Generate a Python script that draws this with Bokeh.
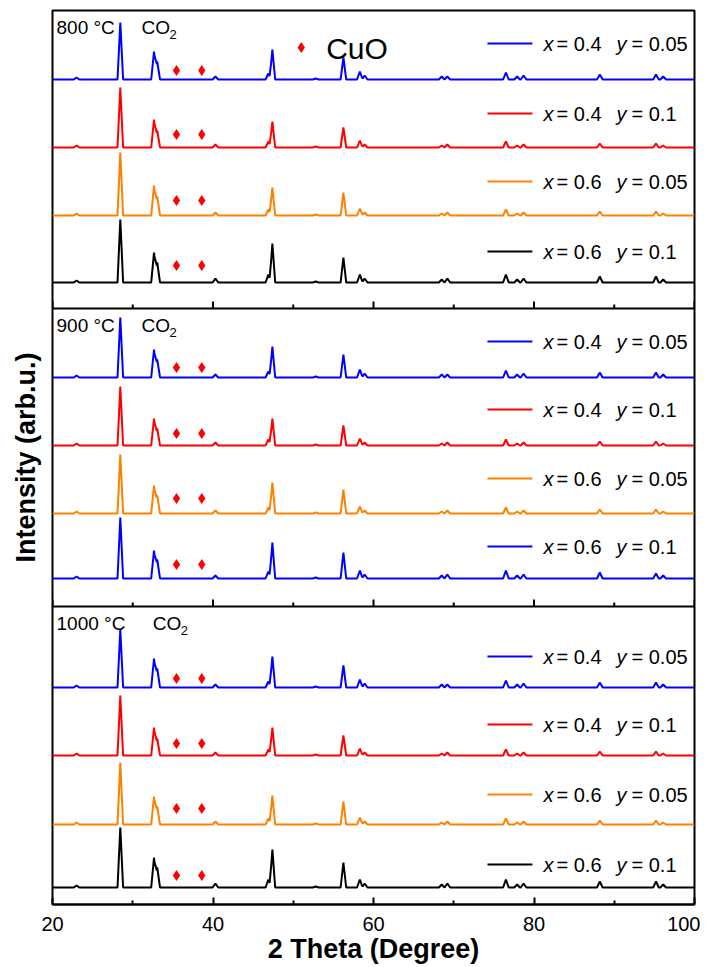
import numpy as np
from bokeh.plotting import figure
from bokeh.models import Range1d, FixedTicker, Span
from bokeh.core.properties import value
from bokeh.embed import file_html
from bokeh.resources import INLINE

# ---------------- data ----------------
peak_2theta = [23.0, 28.45, 32.65, 33.05, 40.3, 46.9, 47.4, 52.8, 56.25, 58.3,
               58.9, 68.5, 69.2, 76.5, 77.9, 78.7, 88.2, 95.2, 96.1]

# peak heights (arb. units) for each trace, panels top -> bottom, traces top -> bottom
p800_x04_y005 = [2, 57, 28, 18, 3, 6, 30, 1, 22, 8, 4, 3, 3, 7, 3, 4, 5, 5, 3]
p800_x04_y01 = [2, 60, 28, 17, 3, 6, 26, 1, 20, 7, 3, 2, 3, 6, 2, 3, 4, 4, 2]
p800_x06_y005 = [2, 63, 30, 19, 3, 6, 28, 1, 23, 7, 3, 2, 3, 6, 2, 3, 4, 4, 2]
p800_x06_y01 = [2, 63, 30, 20, 4, 8, 39, 1, 25, 8, 4, 3, 4, 8, 3, 4, 6, 6, 3]

p900_x04_y005 = [2, 60, 28, 18, 3, 6, 31, 1, 23, 8, 4, 3, 3, 7, 3, 4, 5, 5, 3]
p900_x04_y01 = [2, 59, 27, 17, 3, 6, 27, 1, 20, 7, 3, 2, 3, 6, 2, 3, 4, 4, 2]
p900_x06_y005 = [2, 59, 28, 18, 3, 6, 31, 1, 24, 7, 3, 2, 3, 6, 2, 3, 4, 4, 2]
p900_x06_y01 = [2, 61, 28, 19, 3, 7, 36, 1, 26, 8, 4, 3, 4, 8, 3, 4, 6, 5, 3]

p1000_x04_y005 = [2, 58, 29, 19, 3, 6, 31, 1, 22, 8, 4, 3, 3, 7, 3, 4, 5, 5, 3]
p1000_x04_y01 = [2, 60, 28, 17, 3, 6, 28, 1, 20, 7, 3, 2, 3, 6, 2, 3, 4, 4, 2]
p1000_x06_y005 = [2, 62, 28, 18, 3, 6, 29, 1, 23, 7, 3, 2, 3, 6, 2, 3, 4, 4, 2]
p1000_x06_y01 = [2, 60, 30, 20, 4, 8, 38, 1, 25, 8, 4, 3, 4, 8, 3, 4, 6, 6, 3]

cuo_2theta = [35.45, 38.6]
temperatures = ["800 \u00b0C", "900 \u00b0C", "1000 \u00b0C"]
legend_x_vals = ["0.4", "0.4", "0.6", "0.6"]
legend_y_vals = ["0.05", "0.1", "0.05", "0.1"]
x_major_ticks = [20, 40, 60, 80, 100]
x_minor_ticks = [30, 50, 70, 90]

panels = [
    [p800_x04_y005, p800_x04_y01, p800_x06_y005, p800_x06_y01],
    [p900_x04_y005, p900_x04_y01, p900_x06_y005, p900_x06_y01],
    [p1000_x04_y005, p1000_x04_y01, p1000_x06_y005, p1000_x06_y01],
]

# ---------------- layout / style ----------------
BLUE, RED, ORANGE, BLACK = "#0000FF", "#FF0000", "#FF8000", "#000000"
panel_colors = [
    [BLUE, RED, ORANGE, BLACK],
    [BLUE, RED, ORANGE, BLUE],
    [BLUE, RED, ORANGE, BLACK],
]
PANEL_H = 298
trace_offsets = [[229, 161, 93, 26], [229, 161, 93, 28], [217, 149, 80, 17]]
legend_offsets = [[265, 195, 127, 57], [265, 197, 128, 60], [248, 180, 110, 40]]
diamond_lift = [[9, 13, 15, 17], [10, 12, 15, 14], [9, 12, 16, 12]]
co2_x = [31.1, 31.1, 32.5]
HW = 0.35
FONT = "Liberation Sans"


def profile(heights):
    xs = {20.0, 100.0}
    for p in peak_2theta:
        xs.update([p - HW, p, p + HW])
    xs = np.array(sorted(xs))
    ys = np.zeros_like(xs)
    for p, h in zip(peak_2theta, heights):
        ys += np.clip(h * (1 - np.abs(xs - p) / HW), 0, None)
    return xs, ys


p = figure(frame_width=642, frame_height=894, x_range=Range1d(20, 100),
           y_range=Range1d(0, 3 * PANEL_H), output_backend="svg",
           toolbar_location=None, min_border_left=52, min_border_right=6,
           min_border_top=10, min_border_bottom=50)
p.xgrid.visible = False
p.ygrid.visible = False
p.outline_line_color = "black"
p.outline_line_width = 2
p.background_fill_color = "white"

xa = p.xaxis[0]
xa.ticker = FixedTicker(ticks=x_major_ticks, minor_ticks=x_minor_ticks)
xa.major_tick_in = 7
xa.major_tick_out = 0
xa.minor_tick_in = 4
xa.minor_tick_out = 0
xa.major_tick_line_width = 2
xa.minor_tick_line_width = 2
xa.axis_line_width = 2
xa.major_label_text_font = FONT
xa.major_label_text_font_size = "20px"
xa.major_label_text_color = "black"
xa.major_label_standoff = 12
xa.axis_label = "2 Theta (Degree)"
xa.axis_label_text_font = FONT
xa.axis_label_text_font_size = "27px"
xa.axis_label_text_font_style = "bold"
xa.axis_label_text_color = "black"
xa.axis_label_standoff = 0

ya = p.yaxis[0]
ya.ticker = FixedTicker(ticks=[])
ya.axis_line_color = None
ya.major_tick_line_color = None
ya.minor_tick_line_color = None
ya.axis_label = "Intensity (arb.u.)"
ya.axis_label_text_font = FONT
ya.axis_label_text_font_size = "27px"
ya.axis_label_text_font_style = "bold"
ya.axis_label_text_color = "black"
ya.axis_label_standoff = 12

# panel separators with inward ticks
for k in (1, 2):
    sep = k * PANEL_H
    p.add_layout(Span(location=sep, dimension="width", line_color="black", line_width=2))
    p.segment(x0=x_major_ticks, y0=[sep] * 5, x1=x_major_ticks, y1=[sep + 7] * 5,
              line_color="black", line_width=2)
    p.segment(x0=x_minor_ticks, y0=[sep] * 4, x1=x_minor_ticks, y1=[sep + 4] * 4,
              line_color="black", line_width=2)

for i, traces in enumerate(panels):
    bottom = (2 - i) * PANEL_H
    top = bottom + PANEL_H
    for j, heights in enumerate(traces):
        base = bottom + trace_offsets[i][j]
        xs, ys = profile(heights)
        col = panel_colors[i][j]
        p.line(xs, ys + base, line_color=col, line_width=2)
        p.scatter(cuo_2theta, [base + diamond_lift[i][j]] * 2, marker="diamond", size=11,
                  color=RED, line_width=0)
        # legend entry
        ly = bottom + legend_offsets[i][j]
        p.segment(x0=[74.2], y0=[ly], x1=[79.8], y1=[ly], line_color=col, line_width=2)
        common = dict(text_font=value(FONT), text_font_size="20px",
                      text_baseline="middle", text_align="left", text_color="black")
        p.text(x=[81.18], y=[ly], text=["x"], text_font_style="italic", **common)
        p.text(x=[81.18], y=[ly], text=["= " + legend_x_vals[j]], x_offset=13, **common)
        p.text(x=[81.18], y=[ly], text=["y"], text_font_style="italic", x_offset=73, **common)
        p.text(x=[81.18], y=[ly], text=["= " + legend_y_vals[j]], x_offset=88, **common)
    # temperature and atmosphere labels
    p.text(x=[20.5], y=[top - 17], text=[temperatures[i]], text_font=value(FONT),
           text_font_size="19px", text_baseline="middle", text_color="black")
    p.text(x=[co2_x[i]], y=[top - 17], text=["CO"], text_font=value(FONT),
           text_font_size="19px", text_baseline="middle", text_color="black")
    p.text(x=[co2_x[i]], y=[top - 24], text=["2"], x_offset=28, text_font=value(FONT),
           text_font_size="13px", text_baseline="middle", text_color="black")

# CuO marker key
p.scatter([51.0], [3 * PANEL_H - 37], marker="diamond", size=11, color=RED, line_width=0)
p.text(x=[54.1], y=[3 * PANEL_H - 38], text=["CuO"], text_font=value(FONT),
       text_font_size="30px", text_baseline="middle", text_color="black")

open("out.html", "w").write(file_html(p, INLINE))
